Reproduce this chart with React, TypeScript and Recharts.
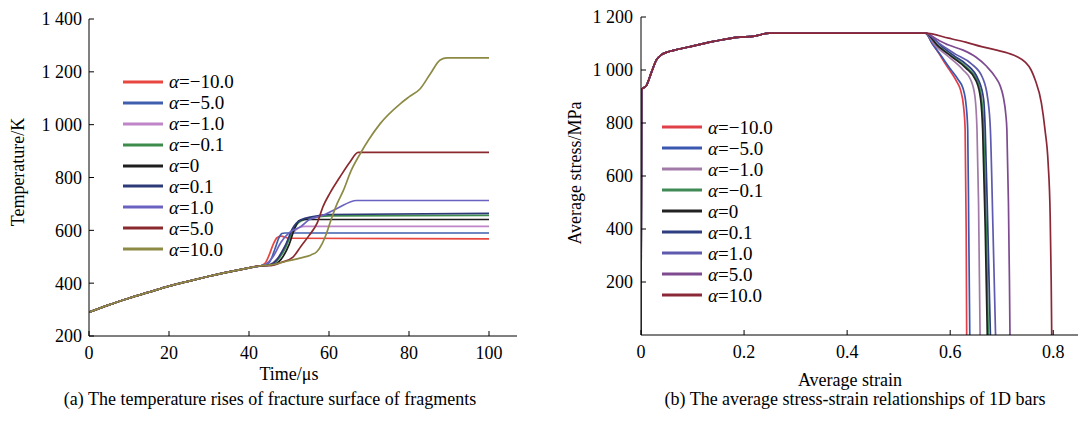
import { LineChart, Line, XAxis, YAxis, Legend } from "recharts"

const FONT = '"Liberation Serif", "Times New Roman", serif'

// (a) temperature vs time, shared part before the curves split
const tempShared = [
  [0, 290], [5, 318], [10, 343], [15, 366], [20, 389], [25, 408],
  [30, 426], [35, 443], [40, 458], [43, 466],
]
const tempM10 = [[44, 475], [45, 505], [46, 545], [47, 572], [48, 578], [50, 570], [100, 568]]
const tempM5 = [[44.5, 470], [45.5, 490], [46.5, 530], [47.5, 572], [48.2, 588], [49, 590], [100, 590]]
const tempM1 = [[45, 470], [47, 490], [49, 540], [51, 590], [52.5, 610], [54, 615], [100, 615]]
const tempM01 = [[45, 468], [47, 485], [49, 530], [51, 600], [53, 635], [56, 648], [60, 655], [100, 657]]
const temp0 = [[46, 470], [48, 490], [50, 545], [51.5, 610], [52.5, 636], [54, 641], [100, 641]]
const tempP01 = [[45, 468], [47, 490], [49, 540], [51, 610], [53, 640], [56, 652], [60, 660], [100, 664]]
const tempP1 = [[44, 470], [46, 500], [48, 555], [50, 590], [53, 615], [55, 640], [58.5, 657], [62, 683], [66.9, 713], [100, 713]]
const tempP5 = [
  [45, 466], [48, 478], [51, 499], [53, 540], [55, 580], [57, 626], [58.5, 690],
  [60.2, 740], [62.7, 801], [65.2, 858], [67.3, 895], [100, 895],
]
const tempP10 = [
  [45, 468], [50, 485], [53, 496], [55.5, 507], [57, 520], [58.3, 550], [59.3, 585],
  [60.2, 626], [62, 700], [63.6, 751], [65.5, 825], [67.8, 890], [69.8, 940],
  [72.8, 1004], [77.8, 1079], [80, 1105], [82.8, 1136], [85.3, 1192], [87.8, 1245],
  [89.5, 1253], [100, 1253],
]

// (b) stress vs strain, shared part before the curves split
const stressShared = [
  [0, 0], [0.001, 925], [0.011, 943], [0.02, 990], [0.03, 1038], [0.04, 1058],
  [0.05, 1067], [0.065, 1075], [0.081, 1082], [0.1, 1090], [0.133, 1105],
  [0.16, 1115], [0.185, 1123], [0.22, 1128], [0.249, 1139], [0.552, 1139],
]
const stressM10 = [[0.565, 1100], [0.578, 1063], [0.59, 1025], [0.603, 988], [0.613, 955], [0.62, 925], [0.626, 861], [0.629, 774], [0.631, 400], [0.632, 0]]
const stressM5 = [[0.565, 1100], [0.58, 1060], [0.6, 1005], [0.615, 965], [0.625, 930], [0.631, 865], [0.634, 774], [0.636, 400], [0.638, 0]]
const stressM1 = [[0.57, 1095], [0.6, 1045], [0.625, 1000], [0.64, 962], [0.648, 900], [0.652, 774], [0.655, 500], [0.658, 0]]
const stressM01 = [[0.575, 1095], [0.605, 1050], [0.632, 1010], [0.652, 962], [0.661, 890], [0.665, 774], [0.67, 400], [0.674, 0]]
const stress0 = [[0.575, 1093], [0.605, 1047], [0.63, 1008], [0.65, 960], [0.659, 890], [0.663, 774], [0.668, 400], [0.672, 0]]
const stressP01 = [[0.584, 1088], [0.61, 1050], [0.629, 1025], [0.655, 962], [0.665, 887], [0.668, 774], [0.673, 400], [0.678, 0]]
const stressP1 = [[0.58, 1098], [0.61, 1060], [0.64, 1025], [0.663, 970], [0.673, 890], [0.678, 774], [0.683, 400], [0.688, 0]]
const stressP5 = [
  [0.575, 1115], [0.597, 1094], [0.625, 1075], [0.649, 1050], [0.67, 1015], [0.687, 975],
  [0.697, 940], [0.703, 899], [0.708, 830], [0.71, 774], [0.713, 500], [0.715, 200], [0.716, 0],
]
const stressP10 = [
  [0.597, 1120], [0.63, 1105], [0.661, 1088], [0.69, 1075], [0.713, 1063], [0.73, 1050],
  [0.745, 1031], [0.757, 1000], [0.765, 962], [0.777, 875], [0.784, 774], [0.79, 650],
  [0.794, 450], [0.796, 200], [0.797, 0],
]

const alphas = ["\u221210.0", "\u22125.0", "\u22121.0", "\u22120.1", "0", "0.1", "1.0", "5.0", "10.0"]
const tempTails = [tempM10, tempM5, tempM1, tempM01, temp0, tempP01, tempP1, tempP5, tempP10]
const stressTails = [stressM10, stressM5, stressM1, stressM01, stress0, stressP01, stressP1, stressP5, stressP10]
const tempColors = ["#e8473f", "#3f5fae", "#c084c8", "#3d8c4c", "#1e1e1e", "#2e3a78", "#6a62c0", "#8b2a2e", "#8c8a45"]
const stressColors = ["#e04048", "#3a58b0", "#a27aa8", "#3f8a55", "#222222", "#2f3e80", "#5e5aae", "#7e4a90", "#8a2838"]

const tempTicksX = [0, 20, 40, 60, 80, 100]
const tempTicksY = [200, 400, 600, 800, 1000, 1200, 1400]
const strainTicks = [0, 0.2, 0.4, 0.6, 0.8]
const stressTicks = [200, 400, 600, 800, 1000, 1200]

const toPoints = (pairs: number[][]) => pairs.map(([x, y]) => ({ x, y }))

const thousands = (v: number) =>
  v >= 1000 ? `${Math.floor(v / 1000)} ${String(v % 1000).padStart(3, "0")}` : `${v}`

const tickStyle = { fill: "#000", fontSize: 18, fontFamily: FONT, style: { fontFamily: FONT } }

const LegendBox = ({ payload, rowH }: any) => {
  const items = [...(payload || [])].sort((a: any, b: any) => alphas.indexOf(a.value) - alphas.indexOf(b.value))
  return (
    <div style={{ fontFamily: FONT, fontSize: 19, color: "#000" }}>
      {items.map((p: any) => (
        <div key={p.value} style={{ display: "flex", alignItems: "center", height: rowH, whiteSpace: "nowrap" }}>
          <svg width={40} height={6} style={{ display: "block" }}>
            <line x1={0} y1={3} x2={40} y2={3} stroke={p.color} strokeWidth={3.2} />
          </svg>
          <span style={{ marginLeft: 6, lineHeight: 1 }}>
            <i>α</i>={p.value}
          </span>
        </div>
      ))}
    </div>
  )
}

const textAt = (x: number, y: number, rotate = false): React.CSSProperties => ({
  position: "absolute",
  left: x,
  top: y,
  transform: `translate(-50%, -50%)${rotate ? " rotate(-90deg)" : ""}`,
  whiteSpace: "nowrap",
  fontFamily: FONT,
  fontSize: 18,
  color: "#000",
})

export default function App() {
  return (
    <div style={{ position: "fixed", left: 0, top: 0, width: 1088, height: 421, background: "#fff", overflow: "hidden", fontFamily: FONT }}>
      <div style={{ position: "absolute", left: 0, top: 0 }}>
        <LineChart width={540} height={380} margin={{ top: 19, right: 23, left: 0, bottom: 0 }}>
          <XAxis
            type="number"
            dataKey="x"
            domain={[0, 107]}
            ticks={tempTicksX}
            height={44}
            tick={tickStyle}
            tickSize={-5}
            tickMargin={15}
            stroke="#000"
            allowDataOverflow
          />
          <YAxis
            type="number"
            dataKey="y"
            domain={[200, 1400]}
            ticks={tempTicksY}
            width={89}
            tick={tickStyle}
            tickSize={-5}
            tickMargin={12}
            tickFormatter={thousands}
            stroke="#000"
            allowDataOverflow
          />
          <Legend
            layout="vertical"
            align="center"
            verticalAlign="middle"
            wrapperStyle={{ left: 123, top: 71.5, width: 150 }}
            content={(props: any) => <LegendBox {...props} rowH={20.9} />}
          />
          {alphas.map((a, i) => (
            <Line
              key={a}
              name={a}
              data={toPoints([...tempShared, ...tempTails[i]])}
              dataKey="y"
              stroke={tempColors[i]}
              strokeWidth={1.7}
              dot={false}
              type="monotone"
              isAnimationActive={false}
            />
          ))}
        </LineChart>
      </div>

      <div style={{ position: "absolute", left: 550, top: 0 }}>
        <LineChart width={538} height={379} margin={{ top: 17, right: 10, left: 0, bottom: 0 }}>
          <XAxis
            type="number"
            dataKey="x"
            domain={[0, 0.848]}
            ticks={strainTicks}
            height={44}
            tick={tickStyle}
            tickSize={-5}
            tickMargin={15}
            stroke="#000"
            allowDataOverflow
          />
          <YAxis
            type="number"
            dataKey="y"
            domain={[0, 1200]}
            ticks={stressTicks}
            width={91}
            tick={tickStyle}
            tickSize={-5}
            tickMargin={13}
            tickFormatter={thousands}
            stroke="#000"
            allowDataOverflow
          />
          <Legend
            layout="vertical"
            align="center"
            verticalAlign="middle"
            wrapperStyle={{ left: 112, top: 116.5, width: 150 }}
            content={(props: any) => <LegendBox {...props} rowH={21} />}
          />
          {alphas.map((a, i) => (
            <Line
              key={a}
              name={a}
              data={toPoints([...stressShared, ...stressTails[i]])}
              dataKey="y"
              stroke={stressColors[i]}
              strokeWidth={1.7}
              dot={false}
              type="monotone"
              isAnimationActive={false}
            />
          ))}
        </LineChart>
      </div>

      <div style={textAt(18, 172, true)}>Temperature/K</div>
      <div style={textAt(289, 374)}>Time/μs</div>
      <div style={textAt(270, 399)}>(a) The temperature rises of fracture surface of fragments</div>

      <div style={textAt(575, 173, true)}>Average stress/MPa</div>
      <div style={textAt(850, 380)}>Average strain</div>
      <div style={textAt(855, 399)}>(b) The average stress-strain relationships of 1D bars</div>
    </div>
  )
}
